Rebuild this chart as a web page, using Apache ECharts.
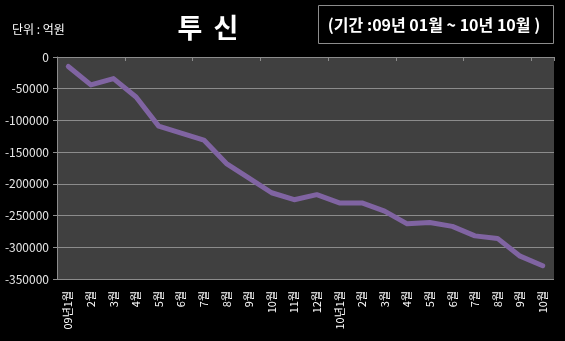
<!DOCTYPE html>
<html>
<head>
<meta charset="utf-8">
<script src="https://cdn.jsdelivr.net/npm/echarts@6/dist/echarts.min.js"></script>
<style>
  html, body { margin: 0; padding: 0; background: #000; }
  #chart { width: 565px; height: 341px; }
</style>
</head>
<body>
<div id="chart"></div>
<script>
// Monthly net flow of investment trusts, 09.01 – 10.10 (unit: 억원)
const months = ['09년1월','2월','3월','4월','5월','6월','7월','8월','9월','10월','11월','12월',
                '10년1월','2월','3월','4월','5월','6월','7월','8월','9월','10월'];
const values = [-15000, -44000, -34000, -63000, -109000, -120000, -131000, -168000, -191000, -214000, -225000,
                -217000, -230000, -230000, -243000, -263000, -261000, -267000, -282000, -286000, -314000, -329000];
const yTicks = { min: -350000, max: 0, interval: 50000 };

const chart = echarts.init(document.getElementById('chart'), null, { renderer: 'canvas' });
const font = '"Noto Sans CJK KR", "Noto Sans", sans-serif';

chart.setOption({
  backgroundColor: '#000000',
  animation: false,
  graphic: [
    { type: 'text', x: 190, y: 28,
      style: { text: '투', fill: '#ffffff', font: 'bold 27px ' + font, align: 'center', verticalAlign: 'middle' } },
    { type: 'text', x: 226, y: 28,
      style: { text: '신', fill: '#ffffff', font: 'bold 27px ' + font, align: 'center', verticalAlign: 'middle' } },
    { type: 'text', x: 12, y: 29,
      style: { text: '단위 : 억원', fill: '#ffffff', font: '12px ' + font, align: 'left', verticalAlign: 'middle' } },
    { type: 'rect', shape: { x: 318.5, y: 5.5, width: 235, height: 38 },
      style: { fill: 'none', stroke: '#8c8c8c', lineWidth: 1 } },
    { type: 'text', x: 434, y: 25,
      style: { text: '(기간 :09년 01월 ~ 10년 10월 )', fill: '#ffffff', font: 'bold 16px ' + font,
               align: 'center', verticalAlign: 'middle' } }
  ],
  grid: { left: 57, right: 11, top: 57, bottom: 62, show: true,
          backgroundColor: '#404040', borderWidth: 0 },
  xAxis: [
    { type: 'category', data: months, position: 'bottom', boundaryGap: true,
      axisLine: { show: false }, axisTick: { show: false },
      axisLabel: { rotate: 90, color: '#ffffff', fontSize: 11, fontFamily: font, margin: 12, interval: 0 } },
    { type: 'category', data: months, position: 'top', boundaryGap: true,
      axisLine: { show: true, lineStyle: { color: '#8c8c8c' } },
      axisTick: { show: true, inside: true, length: 4, lineStyle: { color: '#8c8c8c' } },
      axisLabel: { show: false } }
  ],
  yAxis: {
    type: 'value', min: yTicks.min, max: yTicks.max, interval: yTicks.interval,
    axisLine: { show: true, lineStyle: { color: '#8c8c8c' } },
    axisTick: { show: true, length: 4, lineStyle: { color: '#8c8c8c' } },
    axisLabel: { color: '#e6e6e6', fontSize: 12, fontFamily: font, margin: 8,
                 formatter: v => String(v) },
    splitLine: { show: true, lineStyle: { color: '#8c8c8c', width: 1 } }
  },
  series: [{
    type: 'line', data: values, xAxisIndex: 0,
    symbol: 'none',
    lineStyle: { color: '#8064a2', width: 5, join: 'round', cap: 'round' }
  }]
});
</script>
</body>
</html>
